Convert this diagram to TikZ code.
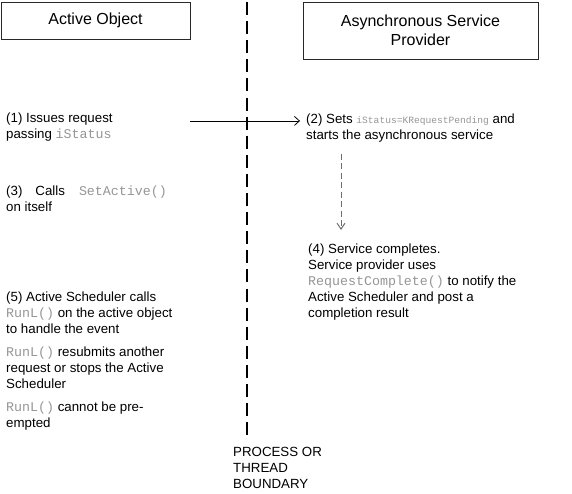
\documentclass[tikz,border=0pt]{standalone}
\usepackage{fontspec}
\setmainfont{Liberation Sans}
\setmonofont{Liberation Mono}
\definecolor{codegray}{RGB}{150,150,150}
\definecolor{flowgray}{RGB}{110,110,110}
\definecolor{edge}{RGB}{40,40,40}
\usetikzlibrary{arrows.meta,positioning}
\newcommand{\code}[1]{{\ttfamily\color{codegray}#1}}

\begin{document}
\begin{tikzpicture}[x=1pt,y=-1pt,
    lane/.style={draw=edge,line width=0.8pt,inner sep=0pt,align=center,font=\fontsize{16}{18.5}\selectfont},
    note/.style={anchor=north west,inner sep=0pt,align=left,font=\fontsize{13.3}{16}\selectfont},
    boundary/.style={line width=2pt,dash pattern=on 13pt off 6.1pt},
    callarrow/.style={-{Straight Barb[length=5pt,width=9pt]},line width=0.8pt},
    asyncarrow/.style={-{Straight Barb[length=6pt,width=8pt]},flowgray,line width=1pt,dash pattern=on 6pt off 3.5pt}]
  \useasboundingbox[fill=white] (0,0) rectangle (572,493);
  \node[lane,minimum width=189pt,minimum height=37pt] (ao) at (95.5,20.5) {Active Object};
  \node[lane,minimum width=235pt,minimum height=57pt] (asp) at (420.5,30.5) {Asynchronous Service\\Provider};
  \node[note] (s1) at (6,113) {(1) Issues request\\passing \code{iStatus}};
  \node[note] (s2) at (306,114) {(2) Sets {\fontsize{9.6}{16}\selectfont\code{iStatus=KRequestPending}} and\\starts the asynchronous service};
  \node[note] (s3) at (6,186) {(3)\hspace{13pt}Calls\hspace{14pt}\code{SetActive()}\\on itself};
  \node[note] (s4) at (308,244) {(4) Service completes.\\Service provider uses\\\code{RequestComplete()} to notify the\\Active Scheduler and post a\\completion result};
  \node[note] (s5) at (6,292) {(5) Active Scheduler calls\\\code{RunL()} on the active object\\to handle the event\\[7pt]\code{RunL()} resubmits another\\request or stops the Active\\Scheduler\\[7pt]\code{RunL()} cannot be pre-\\empted};
  \node[note] (blabel) at (233,447) {PROCESS OR\\THREAD\\BOUNDARY};
  \coordinate (btop) at (247,2);
  \draw[boundary] (btop) -- (btop |- blabel.north) [shorten >=9pt];
  \draw[callarrow,shorten >=6pt] ([yshift=6.5pt]s1.east -| ao.east) -- ([yshift=6.5pt]s1.east -| s2.west);
  \draw[asyncarrow,shorten <=11pt,shorten >=14pt] ([xshift=35pt]s2.south west) -- ([xshift=33pt]s4.north west);
\end{tikzpicture}
\end{document}
